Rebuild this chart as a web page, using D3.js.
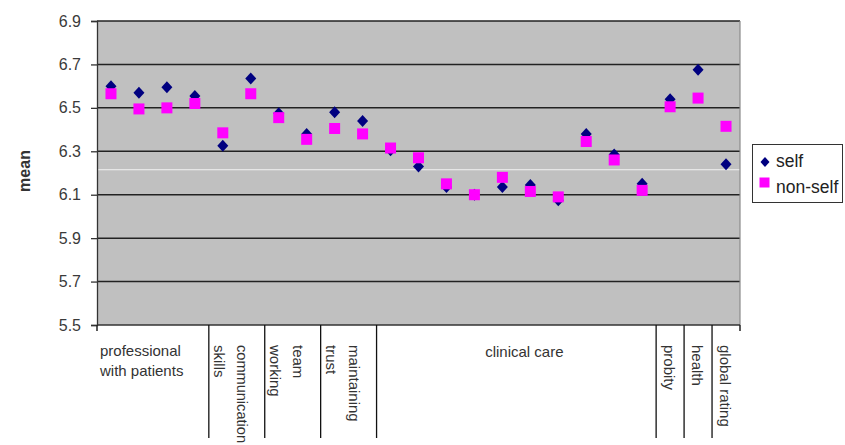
<!DOCTYPE html>
<html>
<head>
<meta charset="utf-8">
<script src="https://cdn.jsdelivr.net/npm/d3@7/dist/d3.min.js"></script>
<style>
  html, body { margin: 0; padding: 0; background: #fff; }
  svg { display: block; font-family: Arial, "Liberation Sans", sans-serif; }
</style>
</head>
<body>
<svg id="chart" width="845" height="445"></svg>
<script>
// Mean ratings per item, grouped by domain
const groupNames = ["professional with patients", "communication skills", "team working",
  "maintaining trust", "clinical care", "probity", "health", "global rating"];
const groupSizes = [4, 2, 2, 2, 10, 1, 1, 1];
const groupLines = [["professional", "with patients"], ["communication", "skills"], ["team", "working"],
  ["maintaining", "trust"], ["clinical care"], ["probity"], ["health"], ["global rating"]];
const groupRotated = [false, true, true, true, false, true, true, true];

const selfValues = [6.60, 6.57, 6.595, 6.555, 6.325, 6.635, 6.475, 6.38, 6.48, 6.44,
  6.305, 6.23, 6.135, 6.10, 6.135, 6.145, 6.075, 6.38, 6.285, 6.15, 6.54, 6.675, 6.24];
const nonSelfValues = [6.565, 6.495, 6.50, 6.52, 6.385, 6.565, 6.455, 6.355, 6.405, 6.38,
  6.315, 6.27, 6.15, 6.10, 6.18, 6.115, 6.09, 6.345, 6.26, 6.12, 6.505, 6.545, 6.415];
const yTicks = [5.5, 5.7, 5.9, 6.1, 6.3, 6.5, 6.7, 6.9];
const referenceLevel = 6.215;
const seriesNames = ["self", "non-self"];

const svg = d3.select("#chart");
const plot = { left: 97, right: 740, top: 21, bottom: 325 };

const items = d3.range(selfValues.length);
const x = d3.scaleBand().domain(items).range([plot.left, plot.right]);
const y = d3.scaleLinear().domain([5.5, 6.9]).range([plot.bottom, plot.top]);

// Plot area background
svg.append("rect")
  .attr("x", plot.left).attr("y", plot.top)
  .attr("width", plot.right - plot.left).attr("height", plot.bottom - plot.top)
  .attr("fill", "#c0c0c0");

// Horizontal gridlines
svg.append("g").selectAll("line").data(yTicks.filter(t => t > 5.5)).join("line")
  .attr("x1", plot.left).attr("x2", plot.right)
  .attr("y1", d => y(d)).attr("y2", d => y(d))
  .attr("stroke", "#222").attr("stroke-width", 1.5);

// faint reference level
svg.append("line")
  .attr("x1", plot.left).attr("x2", plot.right)
  .attr("y1", y(referenceLevel)).attr("y2", y(referenceLevel))
  .attr("stroke", "#f2f2f2").attr("stroke-width", 1);

// right border of plot area
svg.append("line")
  .attr("x1", plot.right).attr("x2", plot.right)
  .attr("y1", plot.top).attr("y2", plot.bottom)
  .attr("stroke", "#8a8a8a").attr("stroke-width", 1.2);

// Y axis
const yAxis = d3.axisLeft(y).tickValues(yTicks).tickFormat(d3.format(".1f")).tickSize(6).tickPadding(10);
const gy = svg.append("g").attr("transform", `translate(${plot.left},0)`).call(yAxis);
gy.select(".domain").attr("stroke", "#333").attr("stroke-width", 1.3);
gy.selectAll(".tick line").attr("stroke", "#333").attr("stroke-width", 1.3);
gy.selectAll(".tick text").attr("fill", "#3a3a3a").attr("font-size", 16)
  .attr("font-family", "Arial, 'Liberation Sans', sans-serif");

svg.append("text")
  .attr("transform", `translate(29.5,171) rotate(-90)`)
  .attr("text-anchor", "middle")
  .attr("font-size", 16).attr("font-weight", "bold").attr("fill", "#333")
  .text("mean");

// X axis line and end ticks
svg.append("line")
  .attr("x1", plot.left).attr("x2", plot.right)
  .attr("y1", plot.bottom).attr("y2", plot.bottom)
  .attr("stroke", "#333").attr("stroke-width", 1.5);
[plot.left, plot.right].forEach(px => {
  svg.append("line").attr("x1", px).attr("x2", px)
    .attr("y1", plot.bottom).attr("y2", plot.bottom + 6)
    .attr("stroke", "#222").attr("stroke-width", 1.5);
});

// Group boundaries and labels
const groupStart = [];
let acc = 0;
groupSizes.forEach(n => { groupStart.push(acc); acc += n; });
const groups = groupNames.map((name, i) => {
  const x0 = x(groupStart[i]);
  const x1 = x(groupStart[i] + groupSizes[i] - 1) + x.bandwidth();
  return { name, x0, x1, lines: groupLines[i], rotated: groupRotated[i], index: i };
});

svg.append("g").selectAll("line").data(groups.slice(1)).join("line")
  .attr("x1", d => d.x0).attr("x2", d => d.x0)
  .attr("y1", plot.bottom).attr("y2", 438)
  .attr("stroke", "#111").attr("stroke-width", 1.3);

const labelG = svg.append("g").attr("font-size", 15).attr("fill", "#333");
groups.forEach(g => {
  const cx = (g.x0 + g.x1) / 2;
  if (!g.rotated) {
    if (g.lines.length > 1) {
      g.lines.forEach((t, k) => {
        labelG.append("text").attr("x", g.x0 + 3).attr("y", 356 + k * 20).text(t);
      });
    } else {
      labelG.append("text").attr("x", cx + 8).attr("y", 357)
        .attr("text-anchor", "middle").text(g.lines[0]);
    }
  } else {
    const offsets = g.lines.length > 1 ? [0, -23] : [-6];
    g.lines.forEach((t, k) => {
      const txt = labelG.append("text")
        .attr("transform", `translate(${cx + offsets[k]},345) rotate(90)`)
        .text(t);
      // keep long rotated words inside the bottom edge
      const room = 443 - 345;
      const w = txt.node().getComputedTextLength();
      if (w > room) txt.attr("textLength", room).attr("lengthAdjust", "spacingAndGlyphs");
    });
  }
});

// Markers: self diamonds beneath, non-self squares on top
svg.append("g").selectAll("path").data(selfValues).join("path")
  .attr("d", "M0,-6L5.5,0L0,6L-5.5,0Z")
  .attr("transform", (d, i) => `translate(${x(i) + x.bandwidth() / 2},${y(d)})`)
  .attr("fill", "#000080");

const sq = 11;
svg.append("g").selectAll("rect").data(nonSelfValues).join("rect")
  .attr("x", (d, i) => x(i) + x.bandwidth() / 2 - sq / 2)
  .attr("y", d => y(d) - sq / 2)
  .attr("width", sq).attr("height", sq)
  .attr("fill", "#ff00ff");

// Legend
const lg = svg.append("g");
lg.append("rect").attr("x", 752.5).attr("y", 144.5).attr("width", 90).attr("height", 58)
  .attr("fill", "#fff").attr("stroke", "#333").attr("stroke-width", 1);
lg.append("path").attr("d", "M0,-5L4.5,0L0,5L-4.5,0Z")
  .attr("transform", "translate(765,162)").attr("fill", "#000080");
lg.append("rect").attr("x", 759.5).attr("y", 177.5).attr("width", 10).attr("height", 10)
  .attr("fill", "#ff00ff");
lg.selectAll("text").data(seriesNames).join("text")
  .attr("x", 776).attr("y", (d, i) => 167 + i * 26)
  .attr("font-size", 17.5).attr("fill", "#222")
  .text(d => d);
</script>
</body>
</html>
